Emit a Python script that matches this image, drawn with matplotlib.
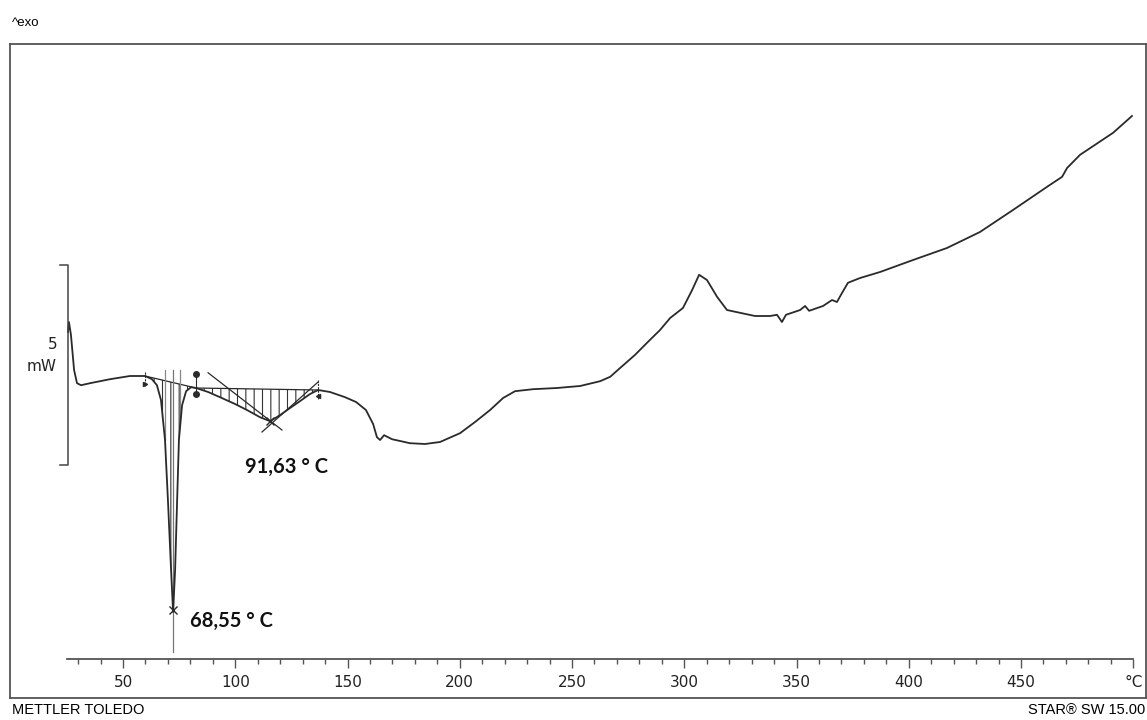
import numpy as np
import matplotlib
matplotlib.use("Agg")
import matplotlib.pyplot as plt

# DSC curve, temperature (°C) and heat flow (mW, exo up)
temp = [25.5, 25.9, 26.8, 28.2, 29.5, 31.3, 35.3, 44.2, 53.1, 59.8,
        62.9, 65.1, 66.9, 68.7, 70.0, 71.4, 72.3, 73.2, 74.1, 74.9,
        76.3, 78.1, 80.3, 82.5, 87.9, 93.2, 99.9, 105.2, 111.0, 115.5,
        119.9, 124.4, 128.8, 133.3, 136.9, 142.2, 148.9, 153.8, 158.2, 161.4,
        163.1, 164.5, 166.3, 169.8, 177.8, 184.5, 191.2, 200.1, 206.8, 213.5,
        219.3, 224.6, 232.6, 243.3, 253.6, 262.5, 267.0, 271.4, 278.1, 283.4,
        289.2, 293.7, 299.4, 303.5, 306.6, 310.1, 314.6, 319.0, 324.8, 331.5,
        338.2, 341.3, 343.5, 345.3, 351.6, 353.8, 355.6, 361.8, 365.8, 368.0,
        370.3, 372.9, 378.3, 387.2, 401.9, 417.0, 431.7, 446.4, 461.6, 468.3,
        470.5, 476.3, 491.0, 499.4]
heat_flow = [1.15, 1.40, 1.08, 0.20, -0.13, -0.18, -0.13, -0.03, 0.05, 0.05,
             -0.03, -0.18, -0.55, -1.55, -3.05, -4.80, -5.85, -4.80, -3.05, -1.55,
             -0.68, -0.33, -0.23, -0.25, -0.35, -0.48, -0.65, -0.80, -0.98, -1.08,
             -0.93, -0.75, -0.58, -0.40, -0.30, -0.35, -0.48, -0.60, -0.80, -1.15,
             -1.48, -1.55, -1.43, -1.53, -1.63, -1.65, -1.60, -1.38, -1.10, -0.80,
             -0.50, -0.33, -0.28, -0.25, -0.20, -0.08, 0.03, 0.25, 0.58, 0.88,
             1.20, 1.50, 1.75, 2.20, 2.58, 2.45, 2.03, 1.70, 1.63, 1.55,
             1.55, 1.58, 1.40, 1.58, 1.70, 1.80, 1.68, 1.80, 1.95, 1.90,
             2.13, 2.38, 2.50, 2.65, 2.95, 3.25, 3.65, 4.20, 4.78, 5.03,
             5.25, 5.58, 6.13, 6.55]

# integration limits (°C) and peak positions
peak1_limits = [59.8, 82.5]
peak2_limits = [82.5, 136.9]
peak1_T, peak1_val = 72.3, -5.85
peak2_T, peak2_val = 115.5, -1.08
peak1_label = "68,55 ° C"
peak2_label = "91,63 ° C"

# tangents used for the second peak
tan_left_T = [87.9, 120.8]
tan_left_val = [0.13, -1.30]
tan_right_T = [111.9, 136.9]
tan_right_val = [-1.35, -0.10]

scale_bar_mw = [-2.17, 2.83]   # 5 mW scale bracket
x_ticks = [50, 100, 150, 200, 250, 300, 350, 400, 450, 500]
x_tick_labels = ["50", "100", "150", "200", "250", "300", "350", "400", "450", "°C"]

temp = np.array(temp)
heat_flow = np.array(heat_flow)

plt.rcParams["hatch.linewidth"] = 0.8
line_col = "#2a2a2a"

fig = plt.figure(figsize=(11.47, 7.2), dpi=100)

# outer frame
frame = fig.add_axes([10 / 1147, 22 / 720, 1136 / 1147, 654 / 720])
frame.set_xticks([])
frame.set_yticks([])
for s in frame.spines.values():
    s.set_color("#555555")
    s.set_linewidth(1.3)

# data axes
ax = fig.add_axes([66.9 / 1147, 61 / 720, 1066.4 / 1147, 615 / 720])
ax.patch.set_alpha(0)
ax.set_xlim(25, 500)
ax.set_ylim(-7.025, 8.35)
for side in ["top", "right", "left"]:
    ax.spines[side].set_visible(False)
ax.spines["bottom"].set_color("#555555")
ax.spines["bottom"].set_linewidth(1.3)
ax.set_yticks([])
ax.set_xticks(x_ticks)
ax.set_xticklabels(x_tick_labels, fontsize=11, color="#222222")
ax.set_xticks(np.arange(30, 500, 10), minor=True)
ax.tick_params(axis="x", which="major", direction="out", length=6.5, width=1, color="#555555", pad=5)
ax.tick_params(axis="x", which="minor", direction="out", length=3.8, width=1, color="#555555")

# hatched peak areas between curve and linear baseline
for lim in [peak1_limits, peak2_limits]:
    m = (temp >= lim[0]) & (temp <= lim[1])
    t = temp[m]
    ends = [np.interp(lim[0], temp, heat_flow), np.interp(lim[1], temp, heat_flow)]
    base = np.interp(t, lim, ends)
    ax.fill_between(t, base, heat_flow[m], facecolor="none", edgecolor="#333333", hatch="||", linewidth=0)
    ax.plot(lim, ends, color=line_col, lw=0.9)

# peak marker lines
ax.plot([peak1_T, peak1_T], [0.2, -6.85], color="#777777", lw=0.9)
ax.plot([68.7, 68.7], [0.2, -1.55], color="#888888", lw=0.9)
ax.plot([75.6, 75.6], [0.2, -1.0], color="#888888", lw=0.9)
ax.plot(tan_left_T, tan_left_val, color=line_col, lw=0.9)
ax.plot(tan_right_T, tan_right_val, color=line_col, lw=0.9)

# main curve
ax.plot(temp, heat_flow, color=line_col, lw=1.3)

ax.plot([peak1_T], [peak1_val + 0.05], marker="x", color=line_col, ms=6, mew=1)
ax.plot([peak2_T], [peak2_val], marker="x", color=line_col, ms=6, mew=1)

# integration limit markers
ax.plot([peak1_limits[0]] * 2, [0.15, -0.2], color=line_col, lw=0.8, ls=(0, (2, 1)))
ax.plot([peak1_limits[0]], [-0.15], marker=">", color=line_col, ms=3)
ax.plot([peak2_limits[0]] * 2, [0.1, -0.4], color=line_col, lw=0.8)
ax.plot([peak2_limits[0]] * 2, [0.1, -0.4], ls="none", marker="o", color=line_col, ms=4)
ax.plot([peak2_limits[1]] * 2, [-0.05, -0.55], color=line_col, lw=0.8, ls=(0, (2, 1)))
ax.plot([peak2_limits[1]], [-0.45], marker="<", color=line_col, ms=3)

ax.text(79.8, -6.08, peak1_label, fontsize=14.5, fontweight="bold", family="Lato", va="center", color="#111111")
ax.text(104.3, -2.23, peak2_label, fontsize=14.5, fontweight="bold", family="Lato", va="center", color="#111111")

# 5 mW scale bracket
ax.plot([21.9, 25.5, 25.5, 21.9], [scale_bar_mw[1], scale_bar_mw[1], scale_bar_mw[0], scale_bar_mw[0]],
        color="#444444", lw=1.1, clip_on=False)
ax.text(20.6, 0.83, "5", fontsize=11, ha="right", va="center", color="#222222", clip_on=False)
ax.text(20.6, 0.28, "mW", fontsize=11, ha="right", va="center", color="#222222", clip_on=False)

fig.text(12 / 1147, 1 - 23 / 720, "^exo", fontsize=9.5, family="Liberation Sans", va="center")
fig.text(12 / 1147, 1 - 710 / 720, "METTLER TOLEDO", fontsize=10.5, family="Liberation Sans", va="center")
fig.text(1145 / 1147, 1 - 710 / 720, "STAR® SW 15.00", fontsize=10.5, family="Liberation Sans",
         va="center", ha="right")

fig.savefig("out.png", dpi=100)
